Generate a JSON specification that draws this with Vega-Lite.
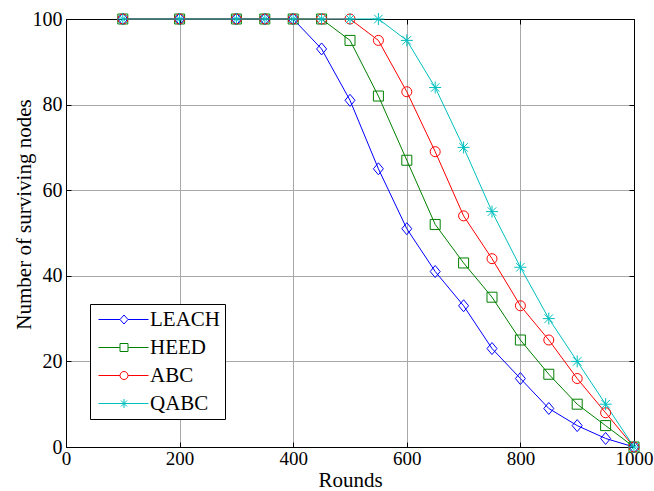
{
  "$schema": "https://vega.github.io/schema/vega-lite/v6.json",
  "width": 568,
  "height": 428,
  "autosize": "none",
  "padding": {"left": 66, "top": 19, "right": 20, "bottom": 44},
  "background": "white",
  "config": {
    "view": {"stroke": "black", "strokeWidth": 1},
    "font": "Liberation Serif",
    "legend": {
      "orient": "none",
      "legendX": 24,
      "legendY": 285,
      "fillColor": "white",
      "strokeColor": "black",
      "padding": 5,
      "cornerRadius": 0,
      "labelFont": "Liberation Serif",
      "labelFontSize": 21,
      "labelColor": "black",
      "symbolSize": 100,
      "labelOffset": 34,
      "rowPadding": 6,
      "symbolStrokeWidth": 1
    }
  },
  "data": {
    "values": [
      {"r": 100, "n": 100, "s": "LEACH"}, {"r": 200, "n": 100, "s": "LEACH"}, {"r": 300, "n": 100, "s": "LEACH"}, {"r": 350, "n": 100, "s": "LEACH"}, {"r": 400, "n": 100, "s": "LEACH"}, {"r": 450, "n": 93, "s": "LEACH"}, {"r": 500, "n": 81, "s": "LEACH"}, {"r": 550, "n": 65, "s": "LEACH"}, {"r": 600, "n": 51, "s": "LEACH"}, {"r": 650, "n": 41, "s": "LEACH"}, {"r": 700, "n": 33, "s": "LEACH"}, {"r": 750, "n": 23, "s": "LEACH"}, {"r": 800, "n": 16, "s": "LEACH"}, {"r": 850, "n": 9, "s": "LEACH"}, {"r": 900, "n": 5, "s": "LEACH"}, {"r": 950, "n": 2, "s": "LEACH"}, {"r": 1000, "n": 0, "s": "LEACH"},
      {"r": 100, "n": 100, "s": "HEED"}, {"r": 200, "n": 100, "s": "HEED"}, {"r": 300, "n": 100, "s": "HEED"}, {"r": 350, "n": 100, "s": "HEED"}, {"r": 400, "n": 100, "s": "HEED"}, {"r": 450, "n": 100, "s": "HEED"}, {"r": 500, "n": 95, "s": "HEED"}, {"r": 550, "n": 82, "s": "HEED"}, {"r": 600, "n": 67, "s": "HEED"}, {"r": 650, "n": 52, "s": "HEED"}, {"r": 700, "n": 43, "s": "HEED"}, {"r": 750, "n": 35, "s": "HEED"}, {"r": 800, "n": 25, "s": "HEED"}, {"r": 850, "n": 17, "s": "HEED"}, {"r": 900, "n": 10, "s": "HEED"}, {"r": 950, "n": 5, "s": "HEED"}, {"r": 1000, "n": 0, "s": "HEED"},
      {"r": 100, "n": 100, "s": "ABC"}, {"r": 200, "n": 100, "s": "ABC"}, {"r": 300, "n": 100, "s": "ABC"}, {"r": 350, "n": 100, "s": "ABC"}, {"r": 400, "n": 100, "s": "ABC"}, {"r": 450, "n": 100, "s": "ABC"}, {"r": 500, "n": 100, "s": "ABC"}, {"r": 550, "n": 95, "s": "ABC"}, {"r": 600, "n": 83, "s": "ABC"}, {"r": 650, "n": 69, "s": "ABC"}, {"r": 700, "n": 54, "s": "ABC"}, {"r": 750, "n": 44, "s": "ABC"}, {"r": 800, "n": 33, "s": "ABC"}, {"r": 850, "n": 25, "s": "ABC"}, {"r": 900, "n": 16, "s": "ABC"}, {"r": 950, "n": 8, "s": "ABC"}, {"r": 1000, "n": 0, "s": "ABC"},
      {"r": 100, "n": 100, "s": "QABC"}, {"r": 200, "n": 100, "s": "QABC"}, {"r": 300, "n": 100, "s": "QABC"}, {"r": 350, "n": 100, "s": "QABC"}, {"r": 400, "n": 100, "s": "QABC"}, {"r": 450, "n": 100, "s": "QABC"}, {"r": 500, "n": 100, "s": "QABC"}, {"r": 550, "n": 100, "s": "QABC"}, {"r": 600, "n": 95, "s": "QABC"}, {"r": 650, "n": 84, "s": "QABC"}, {"r": 700, "n": 70, "s": "QABC"}, {"r": 750, "n": 55, "s": "QABC"}, {"r": 800, "n": 42, "s": "QABC"}, {"r": 850, "n": 30, "s": "QABC"}, {"r": 900, "n": 20, "s": "QABC"}, {"r": 950, "n": 10, "s": "QABC"}, {"r": 1000, "n": 0, "s": "QABC"}
    ]
  },
  "resolve": {"axis": {"x": "independent", "y": "independent"}},
  "layer": [
    {
      "mark": {"type": "line", "strokeWidth": 1},
      "encoding": {
        "x": {
          "field": "r", "type": "quantitative",
          "scale": {"domain": [0, 1000], "nice": false},
          "axis": {
            "title": "Rounds", "values": [0, 200, 400, 600, 800, 1000], "format": "d",
            "grid": true, "gridColor": "#a8a8a8", "gridWidth": 1, "gridOpacity": 1,
            "domainColor": "black", "domainWidth": 1,
            "tickColor": "black", "tickSize": -5, "labelPadding": 7,
            "labelFont": "Liberation Serif", "labelFontSize": 19, "labelColor": "black",
            "labelFlush": false,
            "titleFont": "Liberation Serif", "titleFontSize": 21, "titleFontWeight": "normal", "titleColor": "black",
            "titleY": 39, "titleBaseline": "alphabetic"
          }
        },
        "y": {
          "field": "n", "type": "quantitative",
          "scale": {"domain": [0, 100], "nice": false},
          "axis": {
            "title": "Number of surviving nodes", "values": [0, 20, 40, 60, 80, 100], "format": "d",
            "grid": true, "gridColor": "#a8a8a8", "gridWidth": 1, "gridOpacity": 1,
            "domainColor": "black", "domainWidth": 1,
            "tickColor": "black", "tickSize": -5, "labelPadding": 9,
            "labelFont": "Liberation Serif", "labelFontSize": 20, "labelColor": "black",
            "labelFlush": false,
            "titleFont": "Liberation Serif", "titleFontSize": 21, "titleFontWeight": "normal", "titleColor": "black",
            "titleX": -42, "titleY": 195, "titleBaseline": "middle"
          }
        },
        "color": {
          "field": "s", "type": "nominal",
          "scale": {"domain": ["LEACH", "HEED", "ABC", "QABC"], "range": ["#0000FF", "#008000", "#FF0000", "#00BFBF"]},
          "legend": {
            "title": null,
            "encode": {
              "symbols": {
                "update": {
                  "shape": {"signal": "datum.value === 'LEACH' ? 'M-1.4,0H2.9M4.5,0H8.6M3.7,-0.9L4.5,0L3.7,0.9L2.9,0Z' : datum.value === 'HEED' ? 'M-1.4,0H2.9M4.5,0H8.6M2.9,-0.8H4.5V0.8H2.9Z' : datum.value === 'ABC' ? 'M-1.4,0H2.9M4.5,0H8.6M2.9,0A0.8,0.8 0 1,0 4.5,0A0.8,0.8 0 1,0 2.9,0' : 'M-1.4,0H8.6M3.7,-0.9V0.9M3.1,-0.6L4.3,0.6M3.1,0.6L4.3,-0.6'"},
                  "fill": {"value": "transparent"},
                  "strokeWidth": {"value": 1}
                }
              }
            }
          }
        },
        "detail": {"field": "s"}
      }
    },
    {
      "encoding": {
        "x": {
          "field": "r", "type": "quantitative",
          "axis": {
            "title": null, "labels": false, "grid": false, "values": [0, 200, 400, 600, 800, 1000],
            "domainColor": "black", "tickColor": "black", "tickSize": -5
          }
        },
        "y": {
          "field": "n", "type": "quantitative",
          "axis": {
            "title": null, "labels": false, "grid": false, "values": [0, 20, 40, 60, 80, 100],
            "domainColor": "black", "tickColor": "black", "tickSize": -5
          }
        }
      },
      "layer": [
        {
          "transform": [{"filter": "datum.s === 'LEACH'"}],
          "mark": {"type": "point", "filled": false, "size": 100, "strokeWidth": 1, "opacity": 1, "color": "#0000FF", "shape": "M0,-1.2L1,0L0,1.2L-1,0Z"}
        },
        {
          "transform": [{"filter": "datum.s === 'HEED'"}],
          "mark": {"type": "point", "filled": false, "size": 100, "strokeWidth": 1, "opacity": 1, "color": "#008000", "shape": "square"}
        },
        {
          "transform": [{"filter": "datum.s === 'ABC'"}],
          "mark": {"type": "point", "filled": false, "size": 100, "strokeWidth": 1, "opacity": 1, "color": "#FF0000", "shape": "circle"}
        },
        {
          "transform": [{"filter": "datum.s === 'QABC'"}],
          "mark": {"type": "point", "filled": false, "size": 100, "strokeWidth": 1, "opacity": 1, "color": "#00BFBF", "shape": "M-1.2,0H1.2M0,-1.2V1.2M-0.85,-0.85L0.85,0.85M-0.85,0.85L0.85,-0.85"}
        }
      ]
    }
  ]
}
